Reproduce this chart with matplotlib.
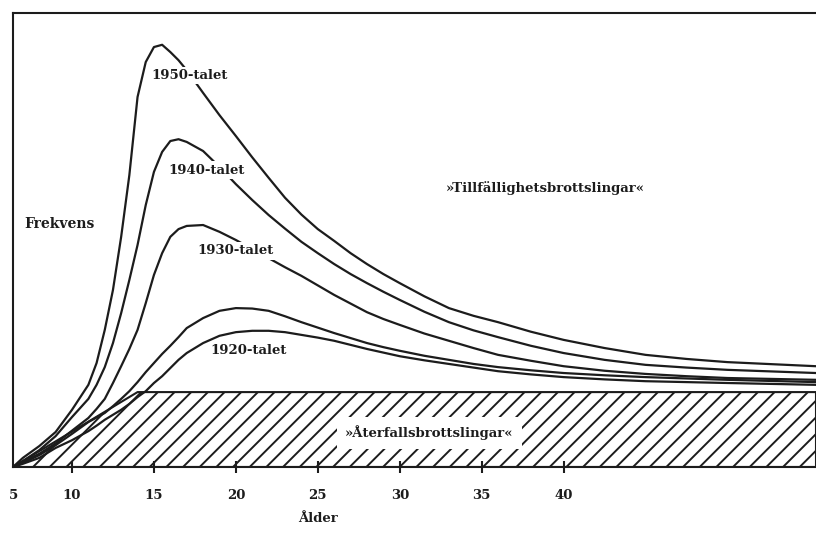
import matplotlib.pyplot as plt

# ages (the origin is printed as "5")
ages = [6.4, 7, 8, 9, 10, 11, 11.5, 12, 12.5, 13, 13.5, 14, 14.5, 15, 15.5, 16, 16.5,
        17, 18, 19, 20, 21, 22, 23, 24, 25, 26, 27, 28, 29, 30, 31.5, 33, 34.5, 36,
        38, 40, 42.5, 45, 47.5, 50, 55.4]

f1950 = [0, 2.0, 4.6, 7.7, 12.6, 18.1, 22.9, 30.2, 39.0, 50.7, 64.3, 81.5, 89.2, 92.5, 93.0, 91.4, 89.6,
         87.4, 82.4, 77.5, 72.9, 68.2, 63.7, 59.3, 55.6, 52.4, 49.8, 47.1, 44.7, 42.5, 40.5, 37.6, 35.0, 33.3, 31.9,
         29.8, 28.0, 26.2, 24.7, 23.8, 23.1, 22.2]
f1940 = [0, 1.3, 3.7, 6.8, 11.0, 15.0, 18.1, 22.0, 27.3, 33.9, 41.2, 48.9, 57.7, 65.0, 69.4, 71.8, 72.2,
         71.6, 69.6, 66.1, 62.3, 58.8, 55.5, 52.5, 49.6, 47.1, 44.7, 42.5, 40.5, 38.6, 36.8, 34.2, 31.9, 30.1, 28.6,
         26.7, 25.1, 23.6, 22.5, 21.9, 21.4, 20.7]
f1930 = [0, 1.1, 2.9, 5.2, 8.0, 10.8, 12.8, 15.0, 18.5, 22.2, 26.0, 30.2, 36.1, 42.3, 47.1, 50.7, 52.4,
         53.1, 53.3, 51.8, 50.0, 48.0, 46.0, 44.0, 42.1, 40.0, 37.9, 36.0, 34.1, 32.6, 31.3, 29.4, 27.8, 26.2, 24.7,
         23.4, 22.2, 21.2, 20.5, 20.0, 19.6, 19.2]
f_unlabelled = [0, 0.9, 2.6, 4.8, 7.3, 9.9, 10.9, 11.9, 13.4, 15.0, 16.7, 18.7, 20.9, 22.9, 24.9, 26.7, 28.6,
                30.6, 32.8, 34.4, 35.0, 34.9, 34.4, 33.2, 31.9, 30.7, 29.5, 28.4, 27.3, 26.4, 25.6, 24.5, 23.6, 22.7, 22.0,
                21.3, 20.7, 20.2, 19.8, 19.5, 19.2, 18.7]
f1920 = [0, 0.7, 2.0, 4.2, 5.9, 7.9, 9.1, 10.4, 11.5, 12.6, 13.9, 15.4, 16.7, 18.5, 20.0, 21.8, 23.6,
         25.1, 27.3, 28.9, 29.7, 30.0, 30.0, 29.7, 29.1, 28.5, 27.8, 26.9, 26.0, 25.2, 24.4, 23.5, 22.7, 21.9, 21.1,
         20.4, 19.8, 19.3, 18.9, 18.7, 18.5, 18.1]

# recidivist block (hatched)
hatch_x = [6.4, 14, 55.4]
hatch_top = [0, 16.5, 16.5]

tick_pos = [6.4, 10, 15, 20, 25, 30, 35, 40]
tick_labels = ['5', '10', '15', '20', '25', '30', '35', '40']

ink = '#1c1c1c'
plt.rcParams['font.family'] = 'DejaVu Serif'
plt.rcParams['hatch.linewidth'] = 1.4

fig = plt.figure(figsize=(8.16, 5.33), dpi=100)
ax = fig.add_axes([13 / 816, 66 / 533, 803 / 816, 454 / 533])

ax.fill_between(hatch_x, 0, hatch_top, facecolor='white', edgecolor=ink,
                hatch='//', lw=1.5, zorder=1)

for f in [f1950, f1940, f1930, f_unlabelled, f1920]:
    ax.plot(ages, f, color=ink, lw=1.6, solid_capstyle='round',
            solid_joinstyle='round', zorder=2)

box = dict(facecolor='white', edgecolor='none', pad=1.5)
lbl = dict(fontsize=9.5, fontweight='bold', color=ink, ha='center', va='center', zorder=3)
ax.text(17.2, 86.3, '1950-talet', bbox=box, **lbl)
ax.text(18.2, 65.4, '1940-talet', bbox=box, **lbl)
ax.text(20.0, 47.6, '1930-talet', bbox=box, **lbl)
ax.text(20.8, 25.6, '1920-talet', bbox=box, **lbl)
ax.text(38.9, 61.5, '»Tillfällighetsbrottslingar«', **lbl)
ax.text(31.8, 7.5, '»Återfallsbrottslingar«',
        bbox=dict(facecolor='white', edgecolor='none', pad=6), **lbl)
ax.text(7.1, 53.5, 'Frekvens', fontsize=10, fontweight='bold', color=ink,
        ha='left', va='center')

ax.set_xlim(6.4, 55.4)
ax.set_ylim(0, 100)
ax.set_yticks([])
ax.set_xticks(tick_pos, tick_labels)
ax.tick_params(axis='x', direction='inout', length=9, width=1.5, pad=11,
               labelsize=9.5, colors=ink)
for t in ax.get_xticklabels():
    t.set_fontweight('bold')
ax.xaxis.get_major_ticks()[0].tick1line.set_visible(False)

ax.set_xlabel('Ålder', fontsize=9.5, fontweight='bold', color=ink)
ax.xaxis.set_label_coords(0.38, -0.1)

ax.spines['right'].set_visible(False)
for s in ['left', 'top', 'bottom']:
    ax.spines[s].set_linewidth(1.5)
    ax.spines[s].set_color(ink)

fig.savefig('out.png', dpi=100)
